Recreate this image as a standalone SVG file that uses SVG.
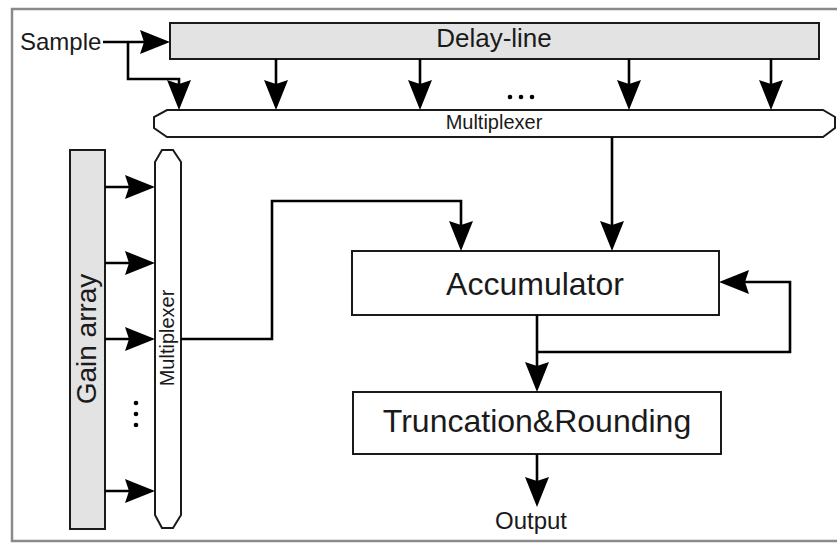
<svg xmlns="http://www.w3.org/2000/svg" width="837" height="543" viewBox="0 0 837 543">
  <style>
    .frame { fill: none; stroke: #8a8a8a; stroke-width: 2.5; }
    .box { fill: #ffffff; stroke: #1a1a1a; stroke-width: 2; }
    .grey { fill: #e3e3e3; stroke: #1a1a1a; stroke-width: 2; }
    .wire { fill: none; stroke: #000000; stroke-width: 2.6; }
    .lbl { font-family: "Liberation Sans", Arial, sans-serif; fill: #1a1a1a; }
    .dot { fill: #000000; }
  </style>
  <defs>
    <marker id="arrow" markerUnits="userSpaceOnUse" markerWidth="30" markerHeight="24" viewBox="0 0 30 24" refX="22" refY="12" orient="auto">
      <path d="M0,0 L30,12 L0,24 L4,12 Z" fill="#000000"/>
    </marker>
  </defs>

  <!-- outer frame (open on the right) -->
  <path class="frame" d="M837,9 H12 V541 H837"/>

  <g id="sample">
    <text class="lbl" x="20" y="50" font-size="24">Sample</text>
  </g>

  <g id="delay-line">
    <rect class="grey" x="170" y="23" width="649" height="36"/>
    <text class="lbl" x="494" y="47" font-size="26" text-anchor="middle">Delay-line</text>
  </g>

  <g id="mux-horizontal">
    <path class="box" d="M167,110 L823,110 L835,117 L835,128 L823,137 L167,137 L154,128 L154,117 Z"/>
    <text class="lbl" x="494" y="129" font-size="20" text-anchor="middle">Multiplexer</text>
    <circle class="dot" cx="510" cy="97" r="2.3"/>
    <circle class="dot" cx="521" cy="97" r="2.3"/>
    <circle class="dot" cx="532" cy="97" r="2.3"/>
  </g>

  <g id="gain-array">
    <rect class="grey" x="70" y="150" width="35" height="379"/>
    <text class="lbl" transform="translate(96,339) rotate(-90)" font-size="28" text-anchor="middle">Gain array</text>
    <circle class="dot" cx="136" cy="403" r="2.3"/>
    <circle class="dot" cx="136" cy="414" r="2.3"/>
    <circle class="dot" cx="136" cy="425" r="2.3"/>
  </g>

  <g id="mux-vertical">
    <path class="box" d="M162,150 L173,150 L181,162 L181,515 L173,528 L162,528 L155,515 L155,162 Z"/>
    <text class="lbl" transform="translate(174,338) rotate(-90)" font-size="20" text-anchor="middle">Multiplexer</text>
  </g>

  <g id="accumulator">
    <rect class="box" x="352" y="251" width="367" height="64"/>
    <text class="lbl" x="535" y="295" font-size="32" text-anchor="middle">Accumulator</text>
  </g>

  <g id="truncation">
    <rect class="box" x="353" y="392" width="368" height="62"/>
    <text class="lbl" x="537" y="432" font-size="32" text-anchor="middle">Truncation&amp;Rounding</text>
  </g>

  <g id="output">
    <text class="lbl" x="531" y="529" font-size="24" text-anchor="middle">Output</text>
  </g>

  <g id="connectors">
    <!-- sample into delay-line and multiplexer -->
    <path class="wire" d="M103,42 H162" marker-end="url(#arrow)"/>
    <path class="wire" d="M128,42 V79 H179 V102" marker-end="url(#arrow)"/>
    <!-- delay-line taps -->
    <path class="wire" d="M276,59 V102" marker-end="url(#arrow)"/>
    <path class="wire" d="M420,59 V102" marker-end="url(#arrow)"/>
    <path class="wire" d="M629,59 V102" marker-end="url(#arrow)"/>
    <path class="wire" d="M771,59 V102" marker-end="url(#arrow)"/>
    <!-- gain array into vertical multiplexer -->
    <path class="wire" d="M105,187 H147" marker-end="url(#arrow)"/>
    <path class="wire" d="M105,263 H147" marker-end="url(#arrow)"/>
    <path class="wire" d="M105,339 H147" marker-end="url(#arrow)"/>
    <path class="wire" d="M105,491 H147" marker-end="url(#arrow)"/>
    <!-- multiplexers into accumulator -->
    <path class="wire" d="M181,339 H272 V201 H461 V243" marker-end="url(#arrow)"/>
    <path class="wire" d="M612,137 V243" marker-end="url(#arrow)"/>
    <!-- accumulator feedback and output -->
    <path class="wire" d="M537,352 H790 V282 H727" marker-end="url(#arrow)"/>
    <path class="wire" d="M537,315 V384" marker-end="url(#arrow)"/>
    <path class="wire" d="M537,454 V499" marker-end="url(#arrow)"/>
  </g>
</svg>
